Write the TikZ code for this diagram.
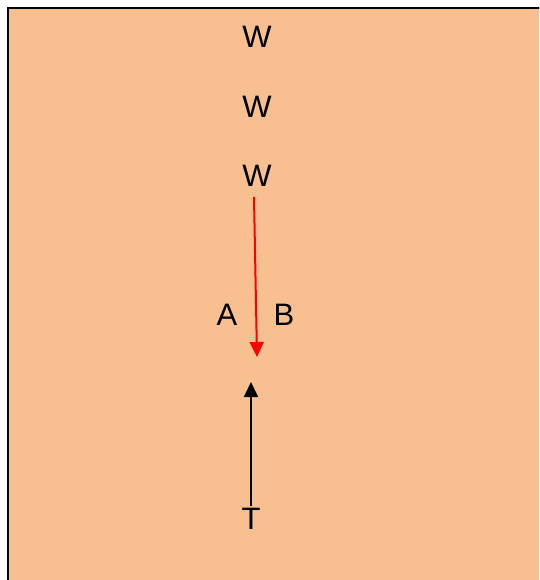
\documentclass[tikz,border=0pt]{standalone}
\usepackage{fontspec}
\setmainfont{Liberation Sans}
\usetikzlibrary{arrows.meta}
\definecolor{peach}{RGB}{248,192,144}
\tikzset{
  lbl/.style={font=\fontsize{31}{34}\selectfont, inner sep=0pt, text=black},
  link/.style={line width=2pt, -{Triangle[length=15pt,width=14pt]}},
}
\begin{document}
\begin{tikzpicture}[x=1pt,y=-1pt]
  \useasboundingbox (0,0) rectangle (539,580);
  \clip (0,0) rectangle (539,580);
  % background panel
  \draw[line width=2pt, fill=peach] (8,8) rectangle (560,600);
  % labels
  \node[lbl] (w1) at (257,37) {W};
  \node[lbl] (w2) at (257,107) {W};
  \node[lbl] (w3) at (257,176) {W};
  \node[lbl] (a) at (227,315) {A};
  \node[lbl] (b) at (284,315) {B};
  \node[lbl] (t) at (251,519) {T};
  % arrow ends
  \coordinate (rs) at (254,197);
  \coordinate (re) at (257,357);
  \coordinate (bs) at (251,506);
  \coordinate (be) at (251,382);
  \draw[link, red] (rs) -- (re);
  \draw[link, black] (bs) -- (be);
\end{tikzpicture}
\end{document}
